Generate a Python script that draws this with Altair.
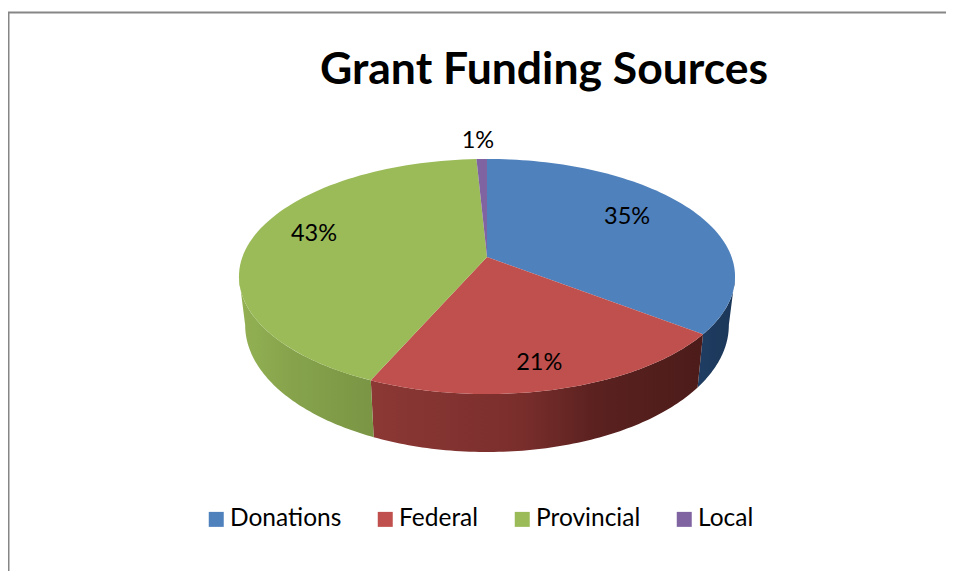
import numpy as np
import pandas as pd
import altair as alt

categories = ["Donations", "Federal", "Provincial", "Local"]
shares = [35.4, 21.2, 42.6, 0.8]
labels = ["35%", "21%", "43%", "1%"]
colors = ["#4F81BD", "#C0504D", "#9BBB59", "#8064A2"]
label_radius = [0.67, 0.875, 0.735, 1.12]
label_turn = [0.0, 2.3, 0.0, -0.8]
title_text = "Grant Funding Sources"

# Pie geometry: a tilted disc seen in perspective
CX, CY, R, C, K = 487.0, 257.0, 244.6, 114.3, 0.166
BOTTOM_SX, BOTTOM_SY, BOTTOM_CY = 0.975, 1.08, 304.0


def project(a, rho=1.0):
    X, Y = rho * np.sin(a), rho * np.cos(a)
    d = 1 + K * Y
    return R * X / d, -C * Y / d


def top(a, rho=1.0):
    x, y = project(a, rho)
    return CX + x, CY + y


def bottom(a):
    x, y = project(a)
    return CX + BOTTOM_SX * x, BOTTOM_CY + BOTTOM_SY * y


edges = np.radians(np.concatenate([[0], np.cumsum(shares)]) * 3.6)
silhouette = np.arccos(-K)

wedge_rows = []
for name, a0, a1 in zip(categories, edges[:-1], edges[1:]):
    ang = np.linspace(a0, a1, 80)
    xs, ys = top(ang)
    pts = [(CX, CY)] + list(zip(xs, ys)) + [(CX, CY)]
    for i, (x, y) in enumerate(pts):
        wedge_rows.append({"slice": name, "i": i, "x": x, "y": y})
wedges = pd.DataFrame(wedge_rows)


def side(a0, a1):
    ang = np.linspace(a0, a1, 80)
    tx, ty = top(ang)
    bx, by = bottom(ang[::-1])
    return pd.DataFrame({"i": np.arange(160), "x": np.r_[tx, bx], "y": np.r_[ty, by]})


def gradient(stops):
    return alt.Gradient(
        gradient="linear", x1=0, x2=1, y1=0, y2=0,
        stops=[alt.GradientStop(color=c, offset=o) for o, c in stops],
    )


x_enc = alt.X("x:Q", scale=alt.Scale(domain=[8, 946], nice=False, zero=False), axis=None)
y_enc = alt.Y("y:Q", scale=alt.Scale(domain=[571, 8], nice=False, zero=False), axis=None)


def side_layer(a0, a1, stops):
    return alt.Chart(side(a0, a1)).mark_line(
        fill=gradient(stops), strokeOpacity=0
    ).encode(x=x_enc, y=y_enc, order=alt.Order("i:Q"))


sides = [
    side_layer(silhouette, edges[1], [(0, "#1F3D63"), (1, "#1B3657")]),
    side_layer(edges[1], edges[2], [(0, "#8C3835"), (0.45, "#7A2E2C"), (0.68, "#5A211F"), (1, "#4C1C1A")]),
    side_layer(edges[2], 2 * np.pi - silhouette, [(0, "#93B153"), (0.4, "#86A34C"), (1, "#7A9544")]),
]

top_face = alt.Chart(wedges).mark_line(strokeOpacity=0).encode(
    x=x_enc,
    y=y_enc,
    order=alt.Order("i:Q"),
    detail="slice:N",
    fill=alt.Fill(
        "slice:N",
        scale=alt.Scale(domain=categories, range=colors),
        legend=alt.Legend(
            title=None, orient="none", direction="horizontal", columns=4,
            legendX=196, legendY=499, padding=0,
            symbolType="square", symbolSize=225, symbolStrokeWidth=0,
            labelFont="Lato", labelFontSize=24.5, labelColor="#000000",
            labelOffset=1.5, columnPadding=31, labelLimit=200, rowPadding=0,
        ),
    ),
)

mids = np.radians((np.concatenate([[0], np.cumsum(shares)[:-1]]) + np.array(shares) / 2 + np.array(label_turn) / 3.6) * 3.6)
lx, ly = top(mids, np.array(label_radius))
text_df = pd.DataFrame({"x": lx, "y": ly, "label": labels})
texts = alt.Chart(text_df).mark_text(
    font="Lato", fontSize=23.5, color="#000000", dy=-8, baseline="middle", align="center"
).encode(x=x_enc, y=y_enc, text="label:N")

frame_left = alt.Chart(pd.DataFrame({"x": [8.5], "y": [12], "y2": [571]})).mark_rule(
    color="#868686", strokeWidth=2
).encode(x=x_enc, y=y_enc, y2="y2:Q")
frame_top = alt.Chart(pd.DataFrame({"x": [8], "x2": [946], "y": [12.5]})).mark_rule(
    color="#868686", strokeWidth=2
).encode(x=x_enc, x2="x2:Q", y=y_enc)

chart = alt.layer(frame_left, frame_top, *sides, top_face, texts).properties(
    width=938,
    height=563,
    padding=0,
    autosize=alt.AutoSizeParams(type="none"),
    title=alt.Title(
        title_text, font="Lato", fontSize=44.5, fontWeight="bold", color="#000000",
        anchor="start", dx=312, offset=-85, frame="group",
    ),
).configure_view(stroke=None)

chart.save("out.html", embed_options={"renderer": "svg", "actions": False})
